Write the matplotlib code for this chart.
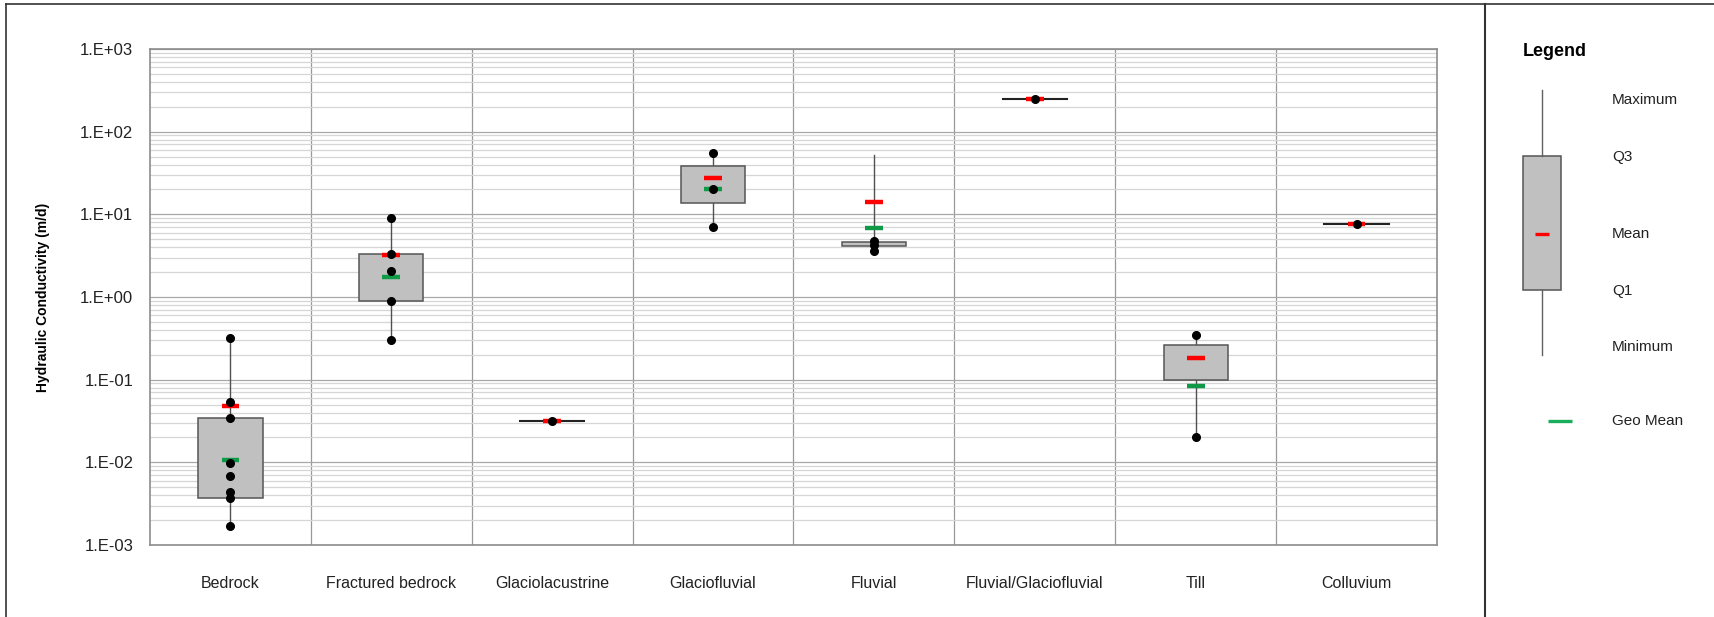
import numpy as np
import matplotlib
matplotlib.use("Agg")
import matplotlib.pyplot as plt
from matplotlib.lines import Line2D
from matplotlib.patches import Rectangle
from matplotlib.ticker import FuncFormatter, FixedLocator, NullFormatter

plt.rcParams['font.family'] = ['Liberation Sans', 'DejaVu Sans']

categories = ["Bedrock", "Fractured bedrock", "Glaciolacustrine", "Glaciofluvial",
              "Fluvial", "Fluvial/Glaciofluvial", "Till", "Colluvium"]

# summary statistics of hydraulic conductivity (m/d)
k_min = [0.0017, 0.30, 0.032, 7.0, 3.6, 245, 0.020, 7.6]
k_q1 = [0.0037, 0.90, 0.032, 13.7, 4.1, 245, 0.10, 7.6]
k_q3 = [0.034, 3.3, 0.032, 38, 4.65, 245, 0.265, 7.6]
k_max = [0.32, 9.0, 0.032, 55, 52, 245, 0.34, 7.6]
k_mean = [0.048, 3.2, 0.032, 27.5, 14, 245, 0.185, 7.6]
k_geomean = [0.0107, 1.75, None, 20, 6.9, None, 0.084, None]

# individual test results
samples = [
    [0.32, 0.053, 0.0348, 0.0099, 0.0069, 0.0044, 0.0037, 0.0017],
    [9.0, 3.3, 2.05, 0.9, 0.30],
    [0.032],
    [55, 20.5, 7.0],
    [4.7, 4.25, 3.6],
    [245],
    [0.345, 0.020],
    [7.7],
]

decades = np.arange(-3, 4)

box_w = 0.4
bar_w = 0.11
red = "#ff0000"
green = "#109a48"

fig = plt.figure(figsize=(17.15, 6.17), dpi=100)
ax = fig.add_axes([150 / 1715, (617 - 545) / 617, 1287 / 1715, 496 / 617])

for i, cat in enumerate(categories):
    # whiskers
    ax.plot([i, i], [k_q3[i], k_max[i]], color="#505050", lw=1, zorder=3)
    ax.plot([i, i], [k_min[i], k_q1[i]], color="#505050", lw=1, zorder=3)
    # box
    if k_q3[i] > k_q1[i]:
        ax.add_patch(Rectangle((i - box_w / 2, k_q1[i]), box_w, k_q3[i] - k_q1[i],
                               facecolor="#c0c0c0", edgecolor="#555555", lw=1.1, zorder=4))
    else:
        ax.plot([i - box_w / 2, i + box_w / 2], [k_q1[i], k_q1[i]], color="#222222", lw=1.5, zorder=4)
    if k_geomean[i] is not None:
        ax.plot([i - bar_w / 2, i + bar_w / 2], [k_geomean[i]] * 2, color=green, lw=3.2,
                solid_capstyle="butt", zorder=5)
    ax.plot([i - bar_w / 2, i + bar_w / 2], [k_mean[i]] * 2, color=red, lw=3.2,
            solid_capstyle="butt", zorder=6)
    ax.plot([i] * len(samples[i]), samples[i], "o", color="black", ms=5.5, zorder=7)

ax.set_yscale("log")
ax.set_ylim(10.0 ** decades[0], 10.0 ** decades[-1])
ax.set_xlim(-0.5, len(categories) - 0.5)

minor_ticks = [m * 10.0 ** d for d in decades[:-1] for m in range(2, 10)]
ax.yaxis.set_major_locator(FixedLocator(10.0 ** decades))
ax.yaxis.set_minor_locator(FixedLocator(minor_ticks))
ax.yaxis.set_major_formatter(FuncFormatter(lambda v, p: "1.E%+03d" % int(round(np.log10(v)))))
ax.yaxis.set_minor_formatter(NullFormatter())
ax.set_xticks(range(len(categories)))
ax.set_xticklabels(categories)
ax.xaxis.set_minor_locator(FixedLocator(np.arange(0.5, len(categories) - 0.5, 1)))
ax.xaxis.set_minor_formatter(NullFormatter())

ax.grid(which="major", axis="y", color="#a8a8a8", lw=0.9)
ax.grid(which="minor", axis="y", color="#d6d6d6", lw=0.9)
ax.grid(which="minor", axis="x", color="#999999", lw=0.9)
ax.set_axisbelow(True)

ax.tick_params(axis="both", which="both", length=0)
ax.tick_params(axis="y", labelsize=12, pad=12, colors="#222222")
ax.tick_params(axis="x", labelsize=11.5, pad=22, colors="#222222")
for s in ax.spines.values():
    s.set_color("#8c8c8c")
    s.set_linewidth(1.2)

ax.set_ylabel("Hydraulic Conductivity (m/d)", fontsize=10, fontweight="bold", labelpad=22)

# outer frame and divider
fig.add_artist(Line2D([6.5 / 1715, 1], [1 - 3.5 / 617] * 2, color="#333333", lw=1.2))
fig.add_artist(Line2D([6.5 / 1715] * 2, [0, 1 - 3.5 / 617], color="#333333", lw=1.2))
fig.add_artist(Line2D([1485.5 / 1715] * 2, [0, 1 - 3.5 / 617], color="#333333", lw=1.5))

# legend panel, in pixel units
lg = fig.add_axes([1485 / 1715, 0, 230 / 1715, 1])
lg.set_xlim(0, 230)
lg.set_ylim(617, 0)
lg.axis("off")
lg.text(38, 51, "Legend", fontsize=13, fontweight="bold", va="center", ha="left")
lg.plot([57, 57], [90, 156], color="#606060", lw=1)
lg.plot([57, 57], [290, 355], color="#606060", lw=1)
lg.add_patch(Rectangle((38.5, 156), 37.5, 134, facecolor="#c0c0c0", edgecolor="#555555", lw=1.1))
lg.plot([50, 64], [234, 234], color=red, lw=2.4, solid_capstyle="butt")
lg.plot([63, 87], [421, 421], color="#1aae5c", lw=2.4, solid_capstyle="butt")
for label, y in zip(["Maximum", "Q3", "Mean", "Q1", "Minimum", "Geo Mean"],
                    [100, 157, 234, 291, 347, 421]):
    lg.text(127, y, label, fontsize=11, va="center", ha="left", color="#222222")

fig.savefig("out.png", dpi=100)
